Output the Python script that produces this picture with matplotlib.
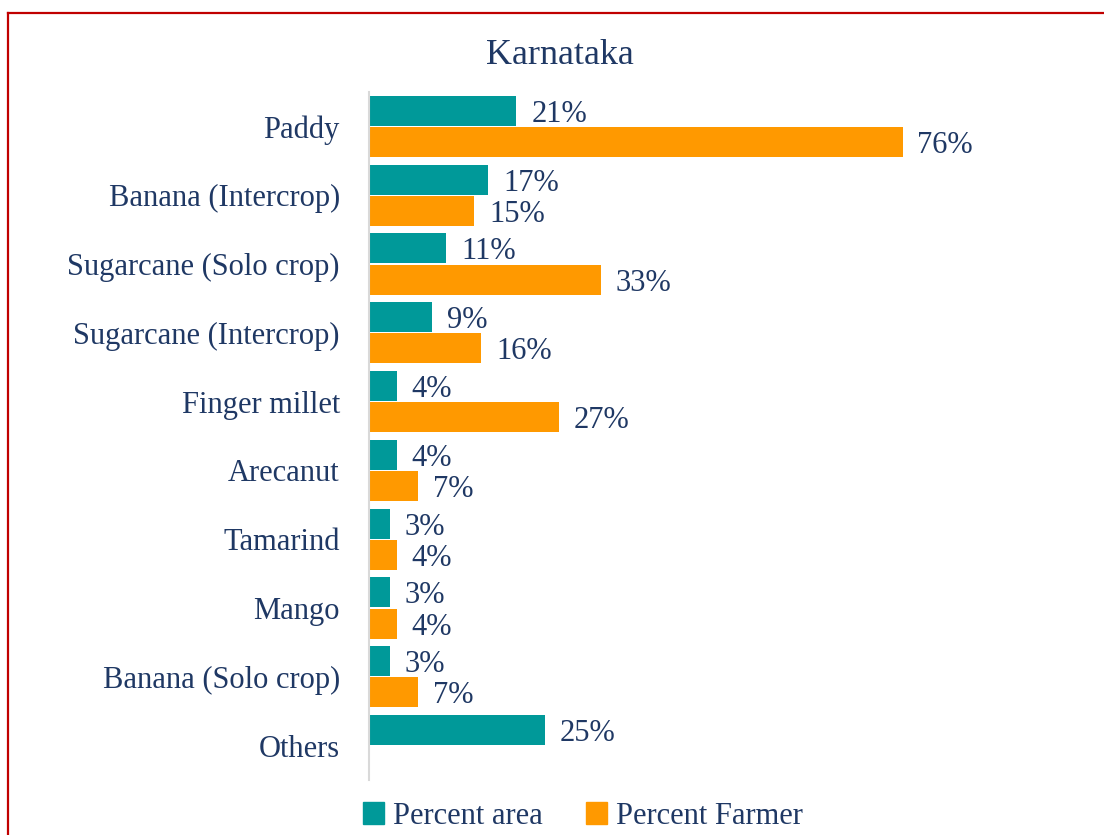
import numpy as np
import matplotlib.pyplot as plt
from matplotlib.patches import Rectangle
from matplotlib.lines import Line2D

crops = ['Paddy', 'Banana (Intercrop)', 'Sugarcane (Solo crop)', 'Sugarcane (Intercrop)',
         'Finger millet', 'Arecanut', 'Tamarind', 'Mango', 'Banana (Solo crop)', 'Others']
pct_area = [21, 17, 11, 9, 4, 4, 3, 3, 3, 25]
pct_farmer = [76, 15, 33, 16, 27, 7, 4, 4, 7, None]

teal = '#009999'
orange = '#FF9900'
navy = '#1F3864'
fs = 22

plt.rcParams['font.family'] = ['Liberation Serif', 'DejaVu Serif']

fig = plt.figure(figsize=(11.04, 8.35), dpi=100)
ax = fig.add_axes([369/1104, 1 - 780/835, 632/1104, 688/835])

y = np.arange(len(crops))
h = 0.435
ax.barh(y - h/2 - 0.01, pct_area, height=h, color=teal, label='Percent area')
farm_vals = [v if v is not None else 0 for v in pct_farmer]
ax.barh(y + h/2 + 0.01, farm_vals, height=h, color=orange, label='Percent Farmer')

for i, v in enumerate(pct_area):
    ax.text(v + 2.1, i - h/2 - 0.01, f'{v}%', va='center_baseline', ha='left', fontsize=fs, color=navy)
for i, v in enumerate(pct_farmer):
    if v is None:
        continue
    ax.text(v + 2.1, i + h/2 + 0.01, f'{v}%', va='center_baseline', ha='left', fontsize=fs, color=navy)

ax.set_ylim(len(crops) - 0.5, -0.5)
ax.set_xlim(0, 90)
ax.set_yticks(y)
ax.set_yticklabels(crops, fontsize=fs, color=navy)
ax.tick_params(axis='y', length=0, pad=21)
ax.set_xticks([])
for s in ['top', 'right', 'bottom']:
    ax.spines[s].set_visible(False)
ax.spines['left'].set_color('#D9D9D9')
ax.spines['left'].set_linewidth(1.5)

fig.text(560/1104, 1 - 56/835, 'Karnataka', ha='center', va='center', fontsize=26, color=navy)

fig.legend(handles=[Rectangle((0, 0), 1, 1, color=teal), Rectangle((0, 0), 1, 1, color=orange)],
           labels=['Percent area', 'Percent Farmer'], loc='center', bbox_to_anchor=(583/1104, 1 - 816/835),
           ncol=2, frameon=False, fontsize=fs, labelcolor=navy, handlelength=0.7, handleheight=0.7,
           handletextpad=0.3, columnspacing=1.4)

# red frame
fig.add_artist(Line2D([8/1104, 8/1104], [0, 1 - 13/835], color='#C00000', lw=1.6))
fig.add_artist(Line2D([8/1104, 1], [1 - 13/835, 1 - 13/835], color='#C00000', lw=1.6))

fig.savefig('out.png', dpi=100)
